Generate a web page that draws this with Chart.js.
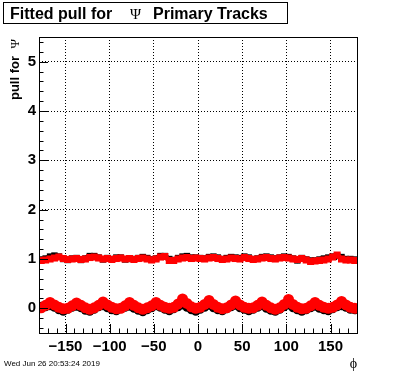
<!DOCTYPE html>
<html>
<head>
<meta charset="utf-8">
<script src="https://cdn.jsdelivr.net/npm/chart.js@4/dist/chart.umd.min.js"></script>
<style>
  html, body { margin: 0; padding: 0; background: #fff; }
  #wrap { position: relative; width: 396px; height: 372px; }
</style>
</head>
<body>
<div id="wrap"><canvas id="myCanvas" width="396" height="372"></canvas></div>
<script>
// phi bin centres (5 degree bins)
const phi = [
  -177.5, -172.5, -167.5, -162.5, -157.5, -152.5, -147.5, -142.5, -137.5, -132.5, -127.5, -122.5,
  -117.5, -112.5, -107.5, -102.5, -97.5, -92.5, -87.5, -82.5, -77.5, -72.5, -67.5, -62.5,
  -57.5, -52.5, -47.5, -42.5, -37.5, -32.5, -27.5, -22.5, -17.5, -12.5, -7.5, -2.5,
  2.5, 7.5, 12.5, 17.5, 22.5, 27.5, 32.5, 37.5, 42.5, 47.5, 52.5, 57.5,
  62.5, 67.5, 72.5, 77.5, 82.5, 87.5, 92.5, 97.5, 102.5, 107.5, 112.5, 117.5,
  122.5, 127.5, 132.5, 137.5, 142.5, 147.5, 152.5, 157.5, 162.5, 167.5, 172.5, 177.5
];

// sigma of pull (upper bands)
const sigmaRed = [
  0.97, 0.98, 1.00, 1.02, 1.04, 1.01, 0.99, 1.00, 1.01, 0.99, 1.00, 1.03,
  1.04, 1.02, 1.00, 1.01, 0.99, 1.01, 1.02, 1.00, 1.01, 0.99, 1.01, 1.02,
  1.00, 0.98, 1.00, 1.04, 1.05, 0.97, 0.97, 1.00, 1.02, 1.03, 1.01, 1.02,
  1.01, 1.00, 1.02, 1.03, 1.01, 0.99, 1.00, 1.02, 1.01, 1.00, 1.03, 1.01,
  0.99, 1.00, 1.02, 1.03, 1.01, 1.00, 1.02, 1.03, 1.02, 1.00, 0.99, 1.01,
  0.98, 0.95, 0.96, 0.97, 0.98, 1.00, 1.04, 1.08, 1.00, 0.98, 0.98, 0.97
];
const sigmaBlack = [
  0.99, 1.01, 1.05, 1.07, 1.05, 1.00, 0.98, 1.01, 1.02, 0.98, 1.01, 1.06,
  1.06, 1.03, 0.99, 1.02, 1.00, 1.03, 1.03, 0.99, 1.00, 1.00, 1.02, 1.04,
  1.02, 0.99, 1.01, 1.06, 1.06, 1.00, 0.98, 1.02, 1.05, 1.06, 1.03, 1.03,
  1.02, 1.01, 1.04, 1.05, 1.03, 1.00, 1.02, 1.04, 1.03, 1.02, 1.05, 1.03,
  1.00, 1.01, 1.04, 1.05, 1.03, 1.01, 1.03, 1.05, 1.04, 1.01, 0.97, 1.02,
  0.99, 0.97, 0.97, 0.99, 1.01, 1.03, 1.05, 1.06, 1.04, 1.00, 1.00, 0.99
];

// mean of pull (lower bands)
const meanRed = [
  0.01, 0.06, 0.12, 0.07, 0.02, -0.01, 0.00, 0.05, 0.11, 0.06, 0.01, -0.02,
  0.01, 0.06, 0.13, 0.07, 0.02, -0.01, 0.00, 0.05, 0.12, 0.06, 0.01, -0.02,
  0.01, 0.05, 0.12, 0.06, 0.02, 0.00, 0.02, 0.09, 0.19, 0.10, 0.03, 0.00,
  0.02, 0.08, 0.16, 0.08, 0.02, -0.01, 0.01, 0.07, 0.15, 0.07, 0.02, 0.00,
  0.01, 0.06, 0.13, 0.06, 0.01, -0.02, 0.01, 0.08, 0.18, 0.08, 0.02, -0.01,
  0.00, 0.05, 0.12, 0.06, 0.02, 0.00, 0.02, 0.07, 0.14, 0.07, 0.02, 0.00
];
const meanBlack = [
  0.04, 0.03, 0.05, 0.02, -0.03, -0.06, -0.02, 0.02, 0.04, 0.01, -0.04, -0.06,
  -0.02, 0.03, 0.05, 0.01, -0.03, -0.05, -0.01, 0.02, 0.04, 0.00, -0.04, -0.07,
  -0.03, 0.01, 0.05, 0.02, -0.02, -0.05, -0.01, 0.03, 0.07, 0.02, -0.03, -0.06,
  -0.02, 0.02, 0.06, 0.01, -0.03, -0.05, -0.01, 0.03, 0.06, 0.01, -0.02, -0.05,
  -0.02, 0.02, 0.05, 0.00, -0.04, -0.06, -0.02, 0.03, 0.07, 0.01, -0.03, -0.06,
  -0.03, 0.01, 0.04, 0.00, -0.03, -0.05, -0.01, 0.03, 0.05, 0.02, -0.02, -0.03
];

const xTicks = [-150, -100, -50, 0, 50, 100, 150];
const yTicks = [0, 1, 2, 3, 4, 5];

const FONT = '"Liberation Sans", Arial, sans-serif';
const SERIF = '"Liberation Serif", "Times New Roman", serif';

function pts(ys) {
  return phi.map((x, i) => ({x: x, y: ys[i]}));
}

function band(label, ys, color, style, r) {
  return {
    label: label,
    data: pts(ys),
    borderColor: color,
    backgroundColor: color,
    borderWidth: 5,
    pointStyle: style,
    pointRadius: r,
    pointBorderWidth: 0,
    tension: 0
  };
}

// ROOT-like frame, inner tick marks and the texts around the plot
const rootDecor = {
  id: 'rootDecor',
  afterDraw(chart) {
    const c = chart.ctx;
    const a = chart.chartArea;
    const xs = chart.scales.x, ys = chart.scales.y;
    c.save();
    c.strokeStyle = '#000';
    c.lineWidth = 1;
    c.setLineDash([]);
    // ticks
    c.beginPath();
    for (let v = -180; v <= 180; v += 10) {
      const px = Math.round(xs.getPixelForValue(v)) + 0.5;
      const len = (v % 50 === 0) ? 9 : 4.5;
      c.moveTo(px, a.bottom);
      c.lineTo(px, a.bottom - len);
    }
    for (let v = -0.4; v <= 5.41; v += 0.2) {
      const vv = Math.round(v * 10) / 10;
      const py = Math.round(ys.getPixelForValue(vv)) + 0.5;
      const len = (Math.abs(vv - Math.round(vv)) < 1e-6) ? 9 : 4.5;
      c.moveTo(a.left, py);
      c.lineTo(a.left + len, py);
    }
    c.stroke();
    // frame
    c.strokeRect(Math.round(a.left) + 0.5, Math.round(a.top) + 0.5,
                 Math.round(a.right - a.left), Math.round(a.bottom - a.top));

    // title box
    c.fillStyle = '#fff';
    c.fillRect(3, 2, 284, 21);
    c.strokeRect(3.5, 2.5, 284, 21);
    c.fillStyle = '#000';
    c.textBaseline = 'alphabetic';
    c.textAlign = 'left';
    c.font = 'bold 16px ' + FONT;
    c.fillText('Fitted pull for', 10, 19);
    c.font = '15px ' + SERIF;
    c.fillText('\u03A8', 130, 19);
    c.font = 'bold 16px ' + FONT;
    c.fillText('Primary Tracks', 153, 19);

    // y title
    c.save();
    c.translate(19, 0);
    c.rotate(-Math.PI / 2);
    c.textAlign = 'right';
    c.font = '13px ' + SERIF;
    c.fillText('\u03A8', -39, 0);
    c.font = 'bold 13px ' + FONT;
    c.fillText('pull for', -56, 0);
    c.restore();

    // x title
    c.font = '14px ' + SERIF;
    c.textAlign = 'right';
    c.fillText('\u03D5', 357, 368);

    // date stamp
    c.font = '8px ' + FONT;
    c.textAlign = 'left';
    c.fillText('Wed Jun 26 20:53:24 2019', 4, 366);
    c.restore();
  }
};

const ctx = document.getElementById('myCanvas').getContext('2d');
const myChart = new Chart(ctx, {
  type: 'line',
  data: {
    datasets: [
      band('sigma (red)', sigmaRed, '#ff0000', 'rect', 5),
      band('mean (red)', meanRed, '#ff0000', 'circle', 5.5),
      band('sigma', sigmaBlack, '#000000', 'rect', 4.5),
      band('mean', meanBlack, '#000000', 'circle', 4.5)
    ]
  },
  options: {
    responsive: false,
    animation: false,
    layout: { padding: { left: 0, top: 37, right: 39, bottom: 0 } },
    plugins: { legend: { display: false }, tooltip: { enabled: false } },
    scales: {
      x: {
        type: 'linear',
        min: -180,
        max: 180,
        afterFit(s) { s.height = 39; },
        afterBuildTicks(s) { s.ticks = xTicks.map(v => ({value: v})); },
        grid: { color: '#000', lineWidth: 1, drawTicks: false },
        border: { display: false, dash: [1, 2] },
        ticks: {
          padding: 5,
          color: '#000',
          font: { family: FONT, size: 15, weight: 'bold' },
          maxRotation: 0,
          callback: v => (v < 0 ? '\u2212' + Math.abs(v) : String(v))
        }
      },
      y: {
        min: -0.5,
        max: 5.5,
        afterFit(s) { s.width = 39; },
        afterBuildTicks(s) { s.ticks = yTicks.map(v => ({value: v})); },
        grid: { color: '#000', lineWidth: 1, drawTicks: false },
        border: { display: false, dash: [1, 2] },
        ticks: {
          padding: 3,
          color: '#000',
          font: { family: FONT, size: 15, weight: 'bold' },
          callback: v => String(v)
        }
      }
    }
  },
  plugins: [rootDecor]
});
</script>
</body>
</html>
